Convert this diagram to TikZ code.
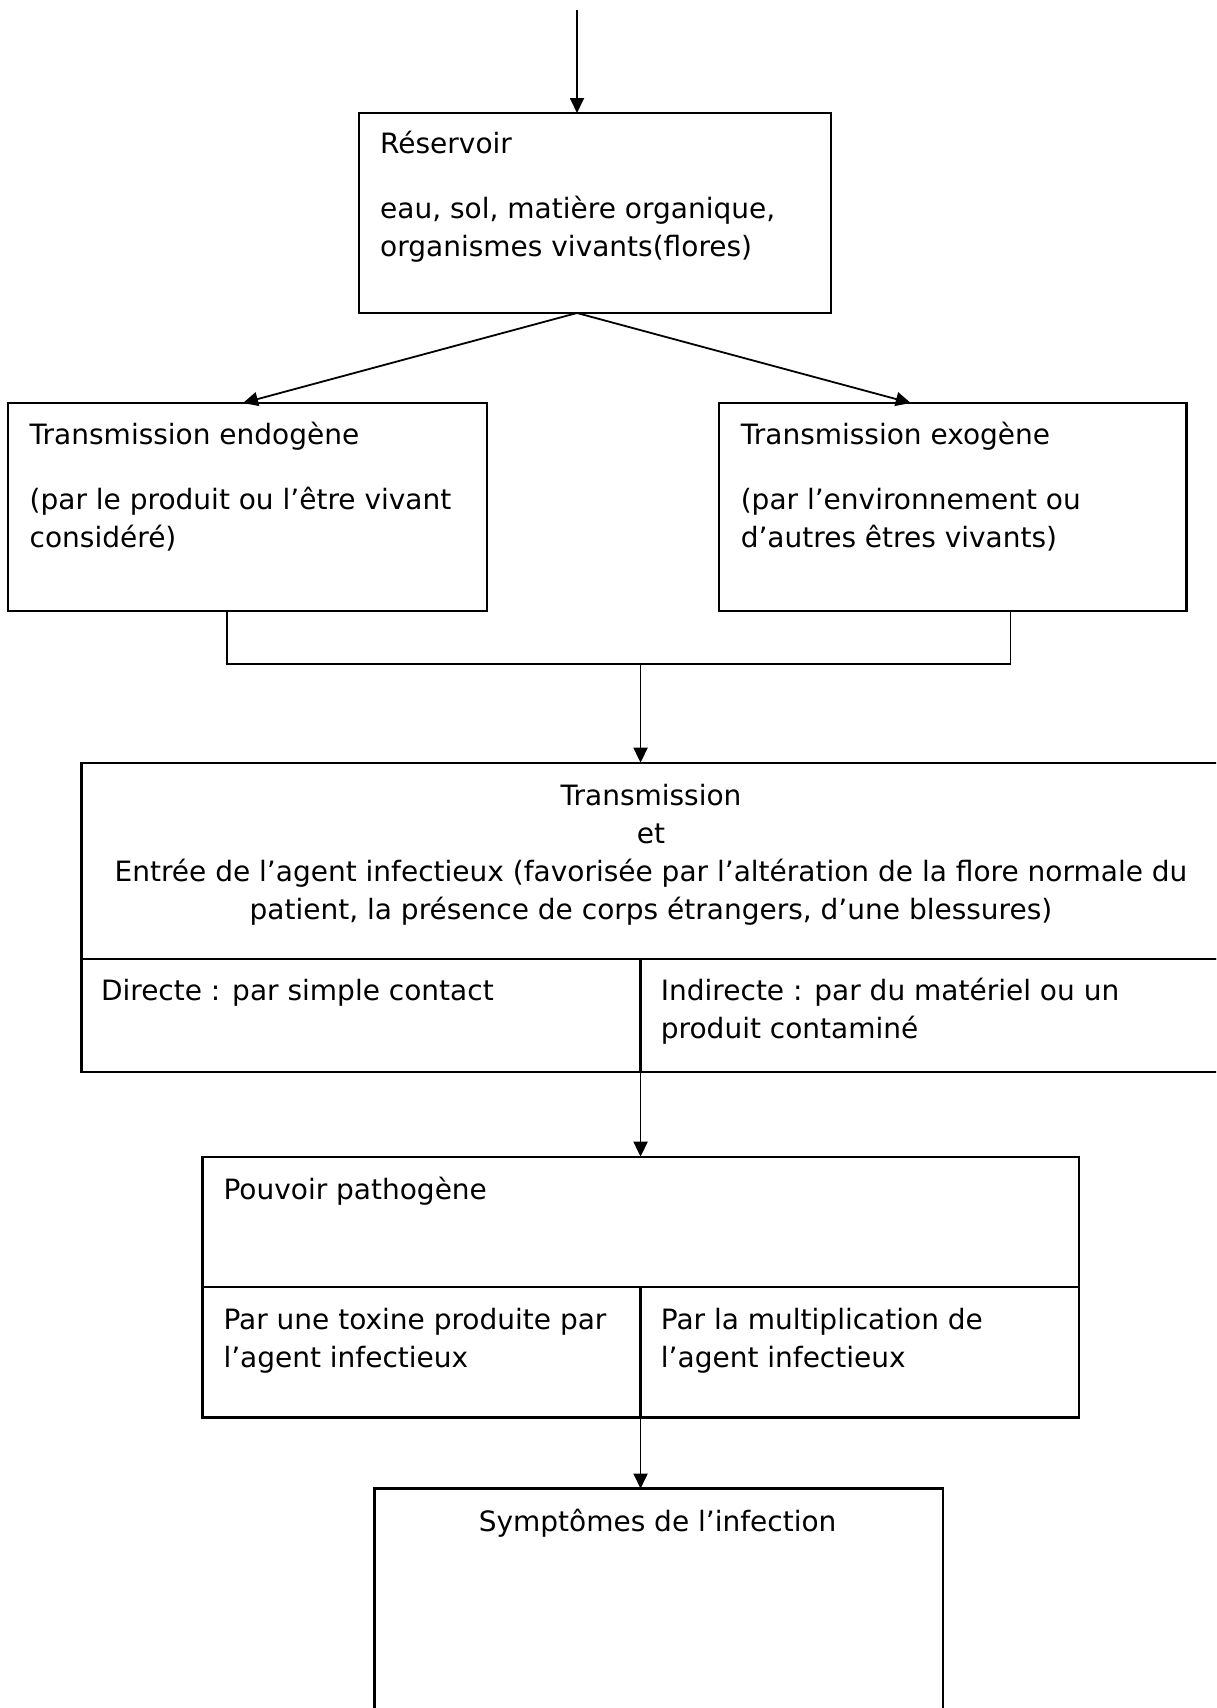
\documentclass[tikz,border=0pt]{standalone}
\usepackage{fontspec}
\setmainfont{DejaVu Sans}
\usepackage{tikz}
\usetikzlibrary{arrows.meta}

\tikzset{
  boite/.style={draw, line width=2.3pt, inner sep=0pt, outer sep=0pt, anchor=north west},
  texte/.style={inner sep=0pt, anchor=base west, align=left, font=\fontsize{28}{38}\selectfont},
  fleche/.style={line width=1.8pt, -{Triangle[length=15pt,width=14pt]}}
}

\begin{document}
\begin{tikzpicture}[x=1pt,y=-1pt]
\clip (0,0) rectangle (1216,1708);

\node[boite, minimum width=472pt, minimum height=200pt] (res) at (359,113) {};
\node[boite, minimum width=479pt, minimum height=208pt] (endo) at (8,403) {};
\node[boite, minimum width=467.5pt, minimum height=208pt] (exo) at (719,403) {};
\node[boite, minimum width=1142.6pt, minimum height=196.3pt] (trans) at (81.4,762.7) {};
\node[boite, minimum width=559.2pt, minimum height=113.3pt] (directe) at (81.4,959) {};
\node[boite, minimum width=583.4pt, minimum height=113.3pt] (indirecte) at (640.6,959) {};
\node[boite, minimum width=876.3pt, minimum height=130.3pt] (pouv) at (202.4,1156.7) {};
\node[boite, minimum width=438.2pt, minimum height=130.4pt] (toxine) at (202.4,1287) {};
\node[boite, minimum width=438.1pt, minimum height=130.4pt] (multi) at (640.6,1287) {};
\node[boite, minimum width=568.4pt, minimum height=250pt] (symp) at (374.6,1488.6) {};

\node[texte] (t-res) at (380,256.7) {Réservoir\\[27pt]eau, sol, matière organique,\\organismes vivants(flores)};
\node[texte] (t-endo) at (29.5,547.7) {Transmission endogène\\[27pt](par le produit ou l’être vivant\\considéré)};
\node[texte] (t-exo) at (740.6,547.7) {Transmission exogène\\[27pt](par l’environnement ou\\d’autres êtres vivants)};
\node[texte, anchor=base, align=center] (t-trans) at (651,919) {Transmission\\et\\Entrée de l’agent infectieux (favorisée par l’altération de la flore normale du\\patient, la présence de corps étrangers, d’une blessures)};
\node[texte] (t-directe) at (100.8,1000.7) {Directe : par simple contact};
\node[texte] (t-indirecte) at (660.7,1038.3) {Indirecte : par du matériel ou un\\produit contaminé};
\node[texte] (t-pouv) at (223.3,1199.5) {Pouvoir pathogène};
\node[texte] (t-toxine) at (223.3,1367.5) {Par une toxine produite par\\l’agent infectieux};
\node[texte] (t-multi) at (660.7,1367.5) {Par la multiplication de\\l’agent infectieux};
\node[texte, anchor=base] (t-symp) at (657.6,1531.4) {Symptômes de l’infection};

\coordinate (haut) at (577,10);
\coordinate (sep) at (haut |- res.south);
\coordinate (g) at (227,664);
\coordinate (d) at (1010.5,664);
\coordinate (axe) at (pouv.north);

\draw[fleche] (haut) -- (haut |- res.north);
\draw[fleche] (sep) -- ([xshift=-4.5pt]endo.north);
\draw[fleche] (sep) -- ([xshift=-42pt]exo.north);
\draw[line width=1.8pt] (endo.south -| g) -- (g) -- (d) -- (exo.south -| d);
\draw[fleche] (g -| axe) -- (trans.north -| axe);
\draw[fleche] (directe.south -| axe) -- (axe);
\draw[fleche] (toxine.south -| axe) -- (symp.north -| axe);

\end{tikzpicture}
\end{document}
